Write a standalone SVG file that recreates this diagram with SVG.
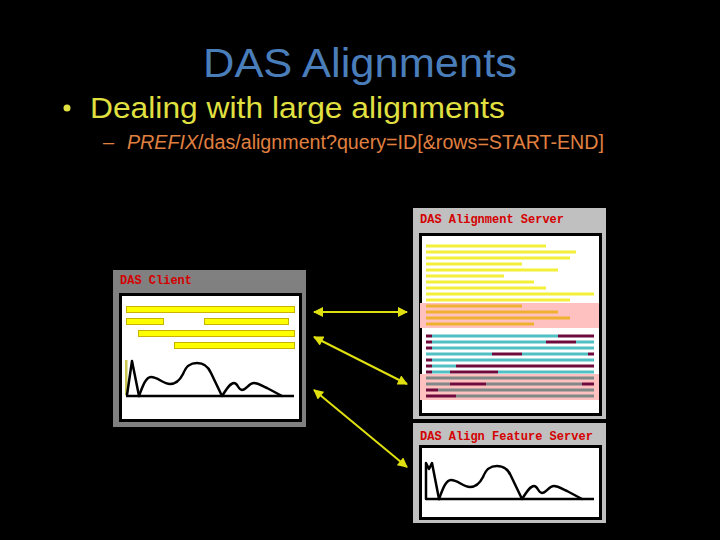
<svg xmlns="http://www.w3.org/2000/svg" width="720" height="540" viewBox="0 0 720 540">
<style>
.mono{font-family:"Liberation Mono","Courier New",monospace;font-size:12px;font-weight:bold;fill:#D40000}
.panelL{fill:#C0C0C0}
.panelD{fill:#808080}
.frame{fill:#FFFFFF;stroke:#000000;stroke-width:3}
.y{fill:#F4F03A}
.o{fill:#F0B030}
.t{fill:#50C0C4}
.m{fill:#6E0A3C}
.g{fill:#808888}
.pink{fill:#FFC0C0}
.bar{fill:#FFFF00;stroke:#C8B400;stroke-width:1}
.curve{fill:none;stroke:#000000;stroke-width:2.5;stroke-linejoin:round;stroke-linecap:round}
.arrow{stroke:#E0E010;stroke-width:2;fill:none;marker-start:url(#ah);marker-end:url(#ah)}
</style>
<defs>
<marker id="ah" viewBox="0 0 10 10" refX="9" refY="5" markerWidth="5.5" markerHeight="5" orient="auto-start-reverse" markerUnits="strokeWidth">
<path d="M0,0 L10,5 L0,10 Z" fill="#E0E010"/>
</marker>
<path id="wave" d="M139,396 C143,385 146,377 151,377 C158,377 163,384 170,384 C176,384 180,380 183,374 C186,366 190,363 197,363 C204,363 208,366 211,373 L222,396 C226,390 230,383 234,383 C238,383 238,390 242,390 C246,390 249,383 254,383 C259,383 262,386 267,388 L282,396"/>
</defs>
<rect x="0" y="0" width="720" height="540" fill="#000000"/>

<g id="title">
<text x="360" y="77" text-anchor="middle" font-family="'Liberation Sans',Arial,sans-serif" font-size="40" fill="#4A7EBB" textLength="314" lengthAdjust="spacingAndGlyphs">DAS Alignments</text>
</g>
<g id="bullet">
<circle cx="67" cy="108" r="3.5" fill="#E0E040"/>
<text x="90" y="118" font-family="'Liberation Sans',Arial,sans-serif" font-size="30" fill="#E0E040" textLength="415" lengthAdjust="spacingAndGlyphs">Dealing with large alignments</text>
<text x="103" y="149" font-family="'Liberation Sans',Arial,sans-serif" font-size="20" fill="#E08040">–</text>
<text x="127" y="149" font-family="'Liberation Sans',Arial,sans-serif" font-size="20" fill="#E08040" textLength="477" lengthAdjust="spacingAndGlyphs"><tspan font-style="italic">PREFIX</tspan>/das/alignment?query=ID[&amp;rows=START-END]</text>
</g>

<g id="client">
<rect class="panelD" x="113" y="270" width="193" height="157"/>
<text class="mono" x="120" y="284">DAS Client</text>
<rect class="frame" x="120.5" y="294.5" width="180" height="126"/>
<rect class="bar" x="126.5" y="306.5" width="168" height="6"/>
<rect class="bar" x="126.5" y="318.5" width="37" height="6"/>
<rect class="bar" x="204.5" y="318.5" width="84" height="6"/>
<rect class="bar" x="138.5" y="330.5" width="156" height="6"/>
<rect class="bar" x="174.5" y="342.5" width="120" height="6"/>
<rect x="125" y="360" width="2.5" height="35" fill="#C8C850"/>
<line x1="126" y1="396" x2="294" y2="396" stroke="#000" stroke-width="2.5"/>
<path class="curve" d="M127,395 L132,361 L139,396"/>
<use href="#wave" class="curve"/>
</g>

<g id="alignment-server">
<rect class="panelL" x="413" y="208" width="193" height="211"/>
<text class="mono" x="420" y="223">DAS Alignment Server</text>
<rect class="frame" x="420.5" y="234.5" width="180" height="180"/>
<rect class="pink" x="420" y="303" width="179" height="25"/>
<rect class="pink" x="420" y="374" width="179" height="26"/>
<g>
<rect class="y" x="426" y="244.5" width="120" height="3"/>
<rect class="y" x="426" y="250.5" width="150" height="3"/>
<rect class="y" x="426" y="256.5" width="144" height="3"/>
<rect class="y" x="426" y="262.5" width="96" height="3"/>
<rect class="y" x="426" y="268.5" width="132" height="3"/>
<rect class="y" x="426" y="274.5" width="78" height="3"/>
<rect class="y" x="426" y="280.5" width="108" height="3"/>
<rect class="y" x="426" y="286.5" width="120" height="3"/>
<rect class="y" x="426" y="292.5" width="168" height="3"/>
<rect class="y" x="426" y="298.5" width="144" height="3"/>
<rect class="o" x="426" y="304.5" width="96" height="3"/>
<rect class="o" x="426" y="310.5" width="132" height="3"/>
<rect class="o" x="426" y="316.5" width="144" height="3"/>
<rect class="o" x="426" y="322.5" width="108" height="3"/>

<rect class="m" x="426" y="334.5" width="6" height="3"/>
<rect class="t" x="432" y="334.5" width="126" height="3"/>
<rect class="m" x="558" y="334.5" width="36" height="3"/>

<rect class="m" x="426" y="340.5" width="6" height="3"/>
<rect class="t" x="432" y="340.5" width="114" height="3"/>
<rect class="m" x="546" y="340.5" width="30" height="3"/>
<rect class="t" x="576" y="340.5" width="18" height="3"/>

<rect class="m" x="426" y="346.5" width="6" height="3"/>
<rect class="t" x="432" y="346.5" width="162" height="3"/>

<rect class="t" x="426" y="352.5" width="66" height="3"/>
<rect class="m" x="492" y="352.5" width="30" height="3"/>
<rect class="t" x="522" y="352.5" width="66" height="3"/>
<rect class="m" x="588" y="352.5" width="6" height="3"/>

<rect class="m" x="426" y="358.5" width="6" height="3"/>
<rect class="t" x="432" y="358.5" width="162" height="3"/>

<rect class="m" x="426" y="364.5" width="6" height="3"/>
<rect class="t" x="432" y="364.5" width="24" height="3"/>
<rect class="m" x="456" y="364.5" width="138" height="3"/>

<rect class="m" x="426" y="370.5" width="6" height="3"/>
<rect class="t" x="432" y="370.5" width="18" height="3"/>
<rect class="m" x="450" y="370.5" width="48" height="3"/>
<rect class="t" x="498" y="370.5" width="96" height="3"/>

<rect class="g" x="426" y="376.5" width="168" height="3"/>

<rect class="g" x="426" y="382.5" width="24" height="3"/>
<rect class="m" x="450" y="382.5" width="36" height="3"/>
<rect class="g" x="486" y="382.5" width="96" height="3"/>
<rect class="m" x="582" y="382.5" width="12" height="3"/>

<rect class="m" x="426" y="388.5" width="12" height="3"/>
<rect class="g" x="438" y="388.5" width="156" height="3"/>

<rect class="m" x="426" y="394.5" width="30" height="3"/>
<rect class="g" x="456" y="394.5" width="138" height="3"/>
</g>
</g>

<g id="feature-server">
<rect class="panelL" x="413" y="423" width="193" height="100"/>
<text class="mono" x="420" y="440">DAS Align Feature Server</text>
<rect class="frame" x="420.5" y="446.5" width="180" height="72"/>
<line x1="426" y1="499" x2="594" y2="499" stroke="#000" stroke-width="2.5"/>
<path class="curve" d="M426,499 L426,463 L429,469 L432,463 L439,499"/>
<use href="#wave" class="curve" transform="translate(300,103)"/>
</g>

<g id="connectors">
<line class="arrow" x1="314" y1="312" x2="407" y2="312"/>
<line class="arrow" x1="314" y1="337" x2="407" y2="384"/>
<line class="arrow" x1="314" y1="390" x2="407" y2="467"/>
</g>
</svg>
